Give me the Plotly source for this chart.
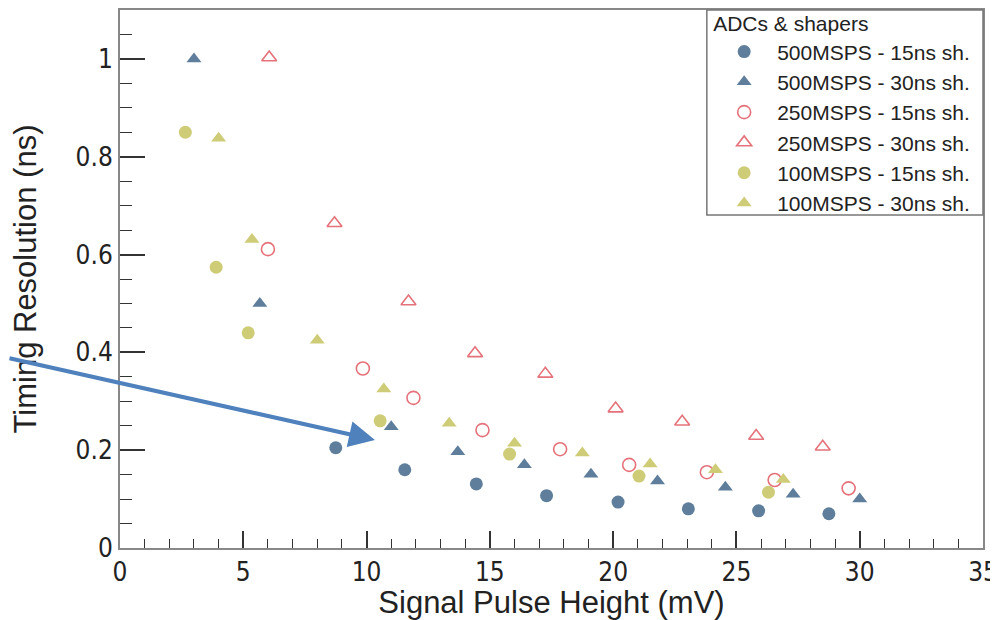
import plotly.graph_objects as go

# ---- data ----
x_500_15 = [8.75, 11.55, 14.45, 17.3, 20.2, 23.05, 25.9, 28.75]
y_500_15 = [0.205, 0.160, 0.131, 0.107, 0.094, 0.080, 0.076, 0.070]

x_500_30 = [3.0, 5.67, 11.0, 13.7, 16.4, 19.1, 21.8, 24.55, 27.3, 30.0]
y_500_30 = [1.0, 0.50, 0.248, 0.197, 0.170, 0.151, 0.137, 0.124, 0.110, 0.100]

x_250_15 = [6.0, 9.85, 11.9, 14.7, 17.85, 20.65, 23.8, 26.55, 29.55]
y_250_15 = [0.611, 0.367, 0.307, 0.241, 0.202, 0.170, 0.155, 0.139, 0.122]

x_250_30 = [6.05, 8.7, 11.7, 14.4, 17.25, 20.1, 22.8, 25.8, 28.5]
y_250_30 = [1.003, 0.664, 0.504, 0.398, 0.356, 0.285, 0.258, 0.229, 0.207]

x_100_15 = [2.65, 3.9, 5.2, 10.55, 15.8, 21.05, 26.3]
y_100_15 = [0.850, 0.574, 0.440, 0.260, 0.192, 0.147, 0.114]

x_100_30 = [4.0, 5.35, 8.0, 10.7, 13.35, 16.0, 18.75, 21.5, 24.15, 26.9]
y_100_30 = [0.838, 0.631, 0.425, 0.325, 0.255, 0.214, 0.194, 0.172, 0.160, 0.140]

series_names = ["500MSPS - 15ns sh.", "500MSPS - 30ns sh.", "250MSPS - 15ns sh.",
                "250MSPS - 30ns sh.", "100MSPS - 15ns sh.", "100MSPS - 30ns sh."]

legend_title = "ADCs & shapers"
x_title = "Signal Pulse Height (mV)"
y_title = "Timing Resolution (ns)"

# arrow annotation (head position in data units)
arrow_head = (10.34, 0.221)

BLUE = "#5e7e9b"
RED = "#e5727a"
YEL = "#cfcc78"
FONT = "Liberation Sans, Arial, Helvetica, sans-serif"
NARROW = "Liberation Sans Narrow, Arial Narrow, DejaVu Sans Condensed, Liberation Sans, sans-serif"

fig = go.Figure()

specs = [
    (x_500_15, y_500_15, "circle", BLUE),
    (x_500_30, y_500_30, "triangle-up", BLUE),
    (x_250_15, y_250_15, "circle-open", RED),
    (x_250_30, y_250_30, "triangle-up-open", RED),
    (x_100_15, y_100_15, "circle", YEL),
    (x_100_30, y_100_30, "triangle-up", YEL),
]
for (xs, ys, sym, col), name in zip(specs, series_names):
    fig.add_trace(go.Scatter(
        x=xs, y=ys, mode="markers", name=name,
        marker=dict(symbol=sym, size=13, color=col,
                    line=dict(color=col, width=1.6 if "open" in sym else 0)),
        cliponaxis=False,
    ))

fig.add_annotation(
    x=arrow_head[0], y=arrow_head[1], xref="x", yref="y",
    ax=-375, ay=-82, axref="pixel", ayref="pixel",
    text="", showarrow=True, arrowhead=2, arrowsize=1.3,
    arrowwidth=4, arrowcolor="#4f81bd", standoff=0,
)

# legend frame drawn as a box in the plot's top-right corner
fig.add_shape(
    type="rect", xref="x domain", yref="y domain",
    x0=0.68, x1=1.0, y0=0.619, y1=1.0,
    line=dict(color="#777777", width=1.5), fillcolor="white", layer="above",
)

# page body has an 8px margin: figure is sized/positioned to compensate
fig.update_layout(
    width=990, height=612,
    margin=dict(l=112, r=15, t=2, b=72, autoexpand=False),
    paper_bgcolor="white", plot_bgcolor="white",
    font=dict(family=FONT, color="#222222"),
    showlegend=True,
    legend=dict(
        title=dict(text=legend_title, font=dict(size=21, family=FONT)),
        font=dict(size=21, family=FONT),
        x=0.685, xanchor="left", y=1.011, yanchor="top",
        bgcolor="rgba(0,0,0,0)", borderwidth=0,
        itemwidth=56,
    ),
    xaxis=dict(
        range=[0, 35], dtick=5, tick0=0,
        showgrid=False, zeroline=False,
        showline=True, linecolor="#888888", linewidth=2, mirror=True,
        ticks="inside", ticklen=17, tickwidth=1.5, tickcolor="#333333",
        minor=dict(dtick=1, ticks="inside", ticklen=9, tickwidth=1.2, tickcolor="#333333", showgrid=False),
        tickfont=dict(size=26, family=NARROW),
        ticklabeloverflow="allow",
        title=dict(text=x_title, font=dict(size=31, family=FONT), standoff=4),
    ),
    yaxis=dict(
        range=[0, 1.1], dtick=0.2, tick0=0,
        showgrid=False, zeroline=False,
        showline=True, linecolor="#888888", linewidth=2, mirror=True,
        ticks="inside", ticklen=25, tickwidth=1.5, tickcolor="#333333",
        minor=dict(dtick=0.05, ticks="inside", ticklen=12, tickwidth=1.2, tickcolor="#333333", showgrid=False),
        tickfont=dict(size=26, family=NARROW),
        title=dict(text=y_title, font=dict(size=31, family=FONT), standoff=30),
    ),
)

fig.write_html("out.html")
